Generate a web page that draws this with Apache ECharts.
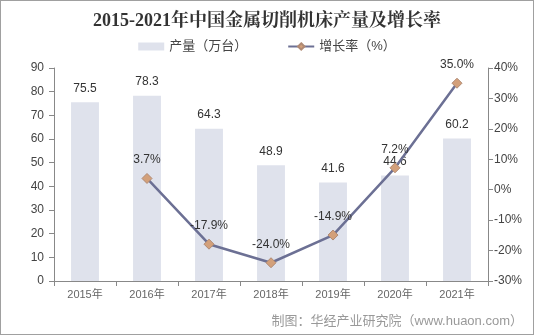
<!DOCTYPE html>
<html><head><meta charset="utf-8">
<script src="https://cdn.jsdelivr.net/npm/echarts@6/dist/echarts.min.js"></script>
<style>html,body{margin:0;padding:0;background:#fff}#c{width:534px;height:335px;box-sizing:border-box;border:1px solid #a0a0a0}</style>
</head><body><div id="c"></div>
<script>
const categories = ['2015年','2016年','2017年','2018年','2019年','2020年','2021年'];
const output = [75.5, 78.3, 64.3, 48.9, 41.6, 44.6, 60.2];
const growth = [null, 3.7, -17.9, -24.0, -14.9, 7.2, 35.0];
const chart = echarts.init(document.getElementById('c'));
const font = '"Liberation Sans", Arial, "Noto Sans CJK SC", sans-serif';
chart.setOption({
  animation: false,
  title: {text: '2015-2021年中国金属切削机床产量及增长率', left: 'center', top: 6,
    textStyle: {fontFamily: '"Liberation Serif","Noto Serif CJK SC","Noto Sans CJK SC",serif', fontWeight: 'bold', fontSize: 18, color: '#333'}},
  legend: {top: 34, left: 'center', itemGap: 40, itemWidth: 26, itemHeight: 8,
    textStyle: {fontFamily: font, fontSize: 13, color: '#444'},
    data: [{name: '产量（万台）', icon: 'rect'}, {name: '增长率（%）'}]},
  grid: {left: 53, right: 45, top: 67, bottom: 53},
  xAxis: {type: 'category', data: categories,
    axisLine: {lineStyle: {color: '#888'}},
    axisTick: {show: true, alignWithLabel: false, lineStyle: {color: '#888'}},
    axisLabel: {fontFamily: font, fontSize: 11, color: '#666', margin: 8}},
  yAxis: [
    {type: 'value', min: 0, max: 90, interval: 10,
      axisLine: {show: true, lineStyle: {color: '#888'}},
      axisTick: {show: true, lineStyle: {color: '#888'}},
      splitLine: {show: false},
      axisLabel: {fontFamily: font, fontSize: 12, color: '#444', margin: 10}},
    {type: 'value', min: -30, max: 40, interval: 10,
      axisLine: {show: true, lineStyle: {color: '#888'}},
      axisTick: {show: true, lineStyle: {color: '#888'}},
      splitLine: {show: false},
      axisLabel: {fontFamily: font, fontSize: 12, color: '#444', margin: 6, formatter: '{value}%'}}
  ],
  series: [
    {name: '产量（万台）', type: 'bar', data: output, barWidth: '45%',
      itemStyle: {color: '#dfe2ec'},
      label: {show: true, position: 'top', distance: 8, fontFamily: font, fontSize: 12, color: '#333'}},
    {name: '增长率（%）', type: 'line', yAxisIndex: 1, data: growth,
      symbol: 'diamond', symbolSize: 10,
      lineStyle: {color: '#6c7094', width: 2.5},
      itemStyle: {color: '#d3a07a', borderColor: '#b08a74', borderWidth: 1},
      label: {show: true, position: 'top', distance: 7, fontFamily: font, fontSize: 12, color: '#333',
        formatter: p => p.value.toFixed(1) + '%'}}
  ],
  graphic: [{type: 'text', right: 10, bottom: 6,
    style: {text: '制图：华经产业研究院（www.huaon.com）', fontFamily: font, fontSize: 13, fill: '#999'}}]
});
</script></body></html>
